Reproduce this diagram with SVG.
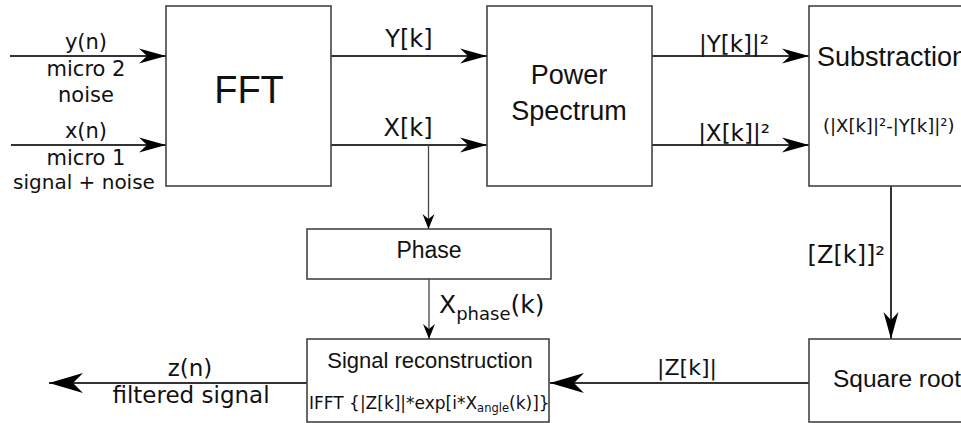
<svg xmlns="http://www.w3.org/2000/svg" width="961" height="423" viewBox="0 0 961 423">
<defs>
<style>
.box{fill:#fff;stroke:#444;stroke-width:1.6}
.ln{fill:none;stroke:#333;stroke-width:2}
.thin{fill:none;stroke:#444;stroke-width:1.3}
.a{font-family:"Liberation Sans",Arial,sans-serif;fill:#111}
.d{font-family:"DejaVu Sans",sans-serif;fill:#111}
.m{text-anchor:middle}
</style>
<marker id="arr" markerUnits="userSpaceOnUse" viewBox="-28 -9 30 18" refX="0" refY="0" markerWidth="30" markerHeight="18" orient="auto">
<path d="M0,0 L-27,-7.5 L-19,0 L-27,7.5 Z" fill="#000"/>
</marker>
<marker id="arrS" markerUnits="userSpaceOnUse" viewBox="-17 -7 19 14" refX="0" refY="0" markerWidth="19" markerHeight="14" orient="auto">
<path d="M0,0 L-15,-6 L-10,0 L-15,6 Z" fill="#000"/>
</marker>
<marker id="arrB" markerUnits="userSpaceOnUse" viewBox="-36 -11 38 22" refX="0" refY="0" markerWidth="38" markerHeight="22" orient="auto">
<path d="M0,0 L-34,-10 L-24,0 L-34,10 Z" fill="#000"/>
</marker>
</defs>
<rect width="961" height="423" fill="#fff"/>
<g id="connectors">
<line class="ln" x1="10" y1="56" x2="166" y2="56" marker-end="url(#arr)"/>
<line class="ln" x1="11" y1="145" x2="166" y2="145" marker-end="url(#arr)"/>
<line class="ln" x1="331" y1="56" x2="487" y2="56" marker-end="url(#arr)"/>
<line class="ln" x1="331" y1="145" x2="487" y2="145" marker-end="url(#arr)"/>
<line class="ln" x1="652" y1="56" x2="809" y2="56" marker-end="url(#arr)"/>
<line class="ln" x1="652" y1="145" x2="809" y2="145" marker-end="url(#arr)"/>
<line class="thin" x1="428.5" y1="145" x2="428.5" y2="229" marker-end="url(#arrS)"/>
<line class="thin" x1="429" y1="279" x2="429" y2="339" marker-end="url(#arrS)"/>
<line class="ln" x1="891" y1="186" x2="891" y2="339" marker-end="url(#arr)"/>
<line class="ln" x1="809" y1="383" x2="550" y2="383" marker-end="url(#arrB)"/>
<line class="ln" x1="307" y1="383" x2="49" y2="383" marker-end="url(#arrB)"/>
<text class="d m" x="86" y="49" font-size="21">y(n)</text>
<text class="d m" x="86" y="76" font-size="21">micro 2</text>
<text class="d m" x="86" y="102" font-size="21">noise</text>
<text class="d m" x="86" y="138" font-size="21">x(n)</text>
<text class="d m" x="86" y="165" font-size="21">micro 1</text>
<text class="d m" x="84" y="189" font-size="20">signal + noise</text>
<text class="d m" x="409" y="47" font-size="24">Y[k]</text>
<text class="d m" x="408" y="136" font-size="24">X[k]</text>
<text class="d m" x="734" y="52" font-size="23">|Y[k]|²</text>
<text class="d m" x="734" y="141" font-size="23">|X[k]|²</text>
<text class="d" x="885" y="263" font-size="24" text-anchor="end">[Z[k]]²</text>
<text class="d m" x="687" y="375" font-size="22">|Z[k]|</text>
<text class="d" x="439" y="313" font-size="25">X<tspan font-size="18" dy="7">phase</tspan><tspan dy="-7">(k)</tspan></text>
<text class="d m" x="190" y="376" font-size="23">z(n)</text>
<text class="d m" x="191" y="403" font-size="23">filtered signal</text>
</g>
<g id="fft">
<rect class="box" x="166" y="6" width="165" height="180"/>
<text class="a m" x="249" y="103" font-size="38">FFT</text>
</g>
<g id="power">
<rect class="box" x="487" y="6" width="165" height="180"/>
<text class="a m" x="569" y="84" font-size="27">Power</text>
<text class="a m" x="569" y="120" font-size="27">Spectrum</text>
</g>
<g id="subtraction">
<rect class="box" x="809" y="6" width="170" height="180"/>
<text class="a" x="817" y="66" font-size="27">Substraction</text>
<text class="d" x="823" y="132" font-size="18">(|X[k]|²-|Y[k]|²)</text>
</g>
<g id="phase">
<rect class="box" x="307" y="229" width="244" height="50"/>
<text class="a m" x="429" y="258" font-size="23">Phase</text>
</g>
<g id="reconstruction">
<rect class="box" x="307" y="339" width="242" height="83"/>
<text class="a m" x="430" y="368" font-size="22">Signal reconstruction</text>
<text class="d" x="309" y="409" font-size="17">IFFT {|Z[k]|*exp[i*X<tspan font-size="11.5" dy="3">angle</tspan><tspan dy="-3">(k)]}</tspan></text>
</g>
<g id="sqrt">
<rect class="box" x="809" y="339" width="170" height="83"/>
<text class="a" x="833" y="387" font-size="24.5">Square root</text>
</g>
</svg>
